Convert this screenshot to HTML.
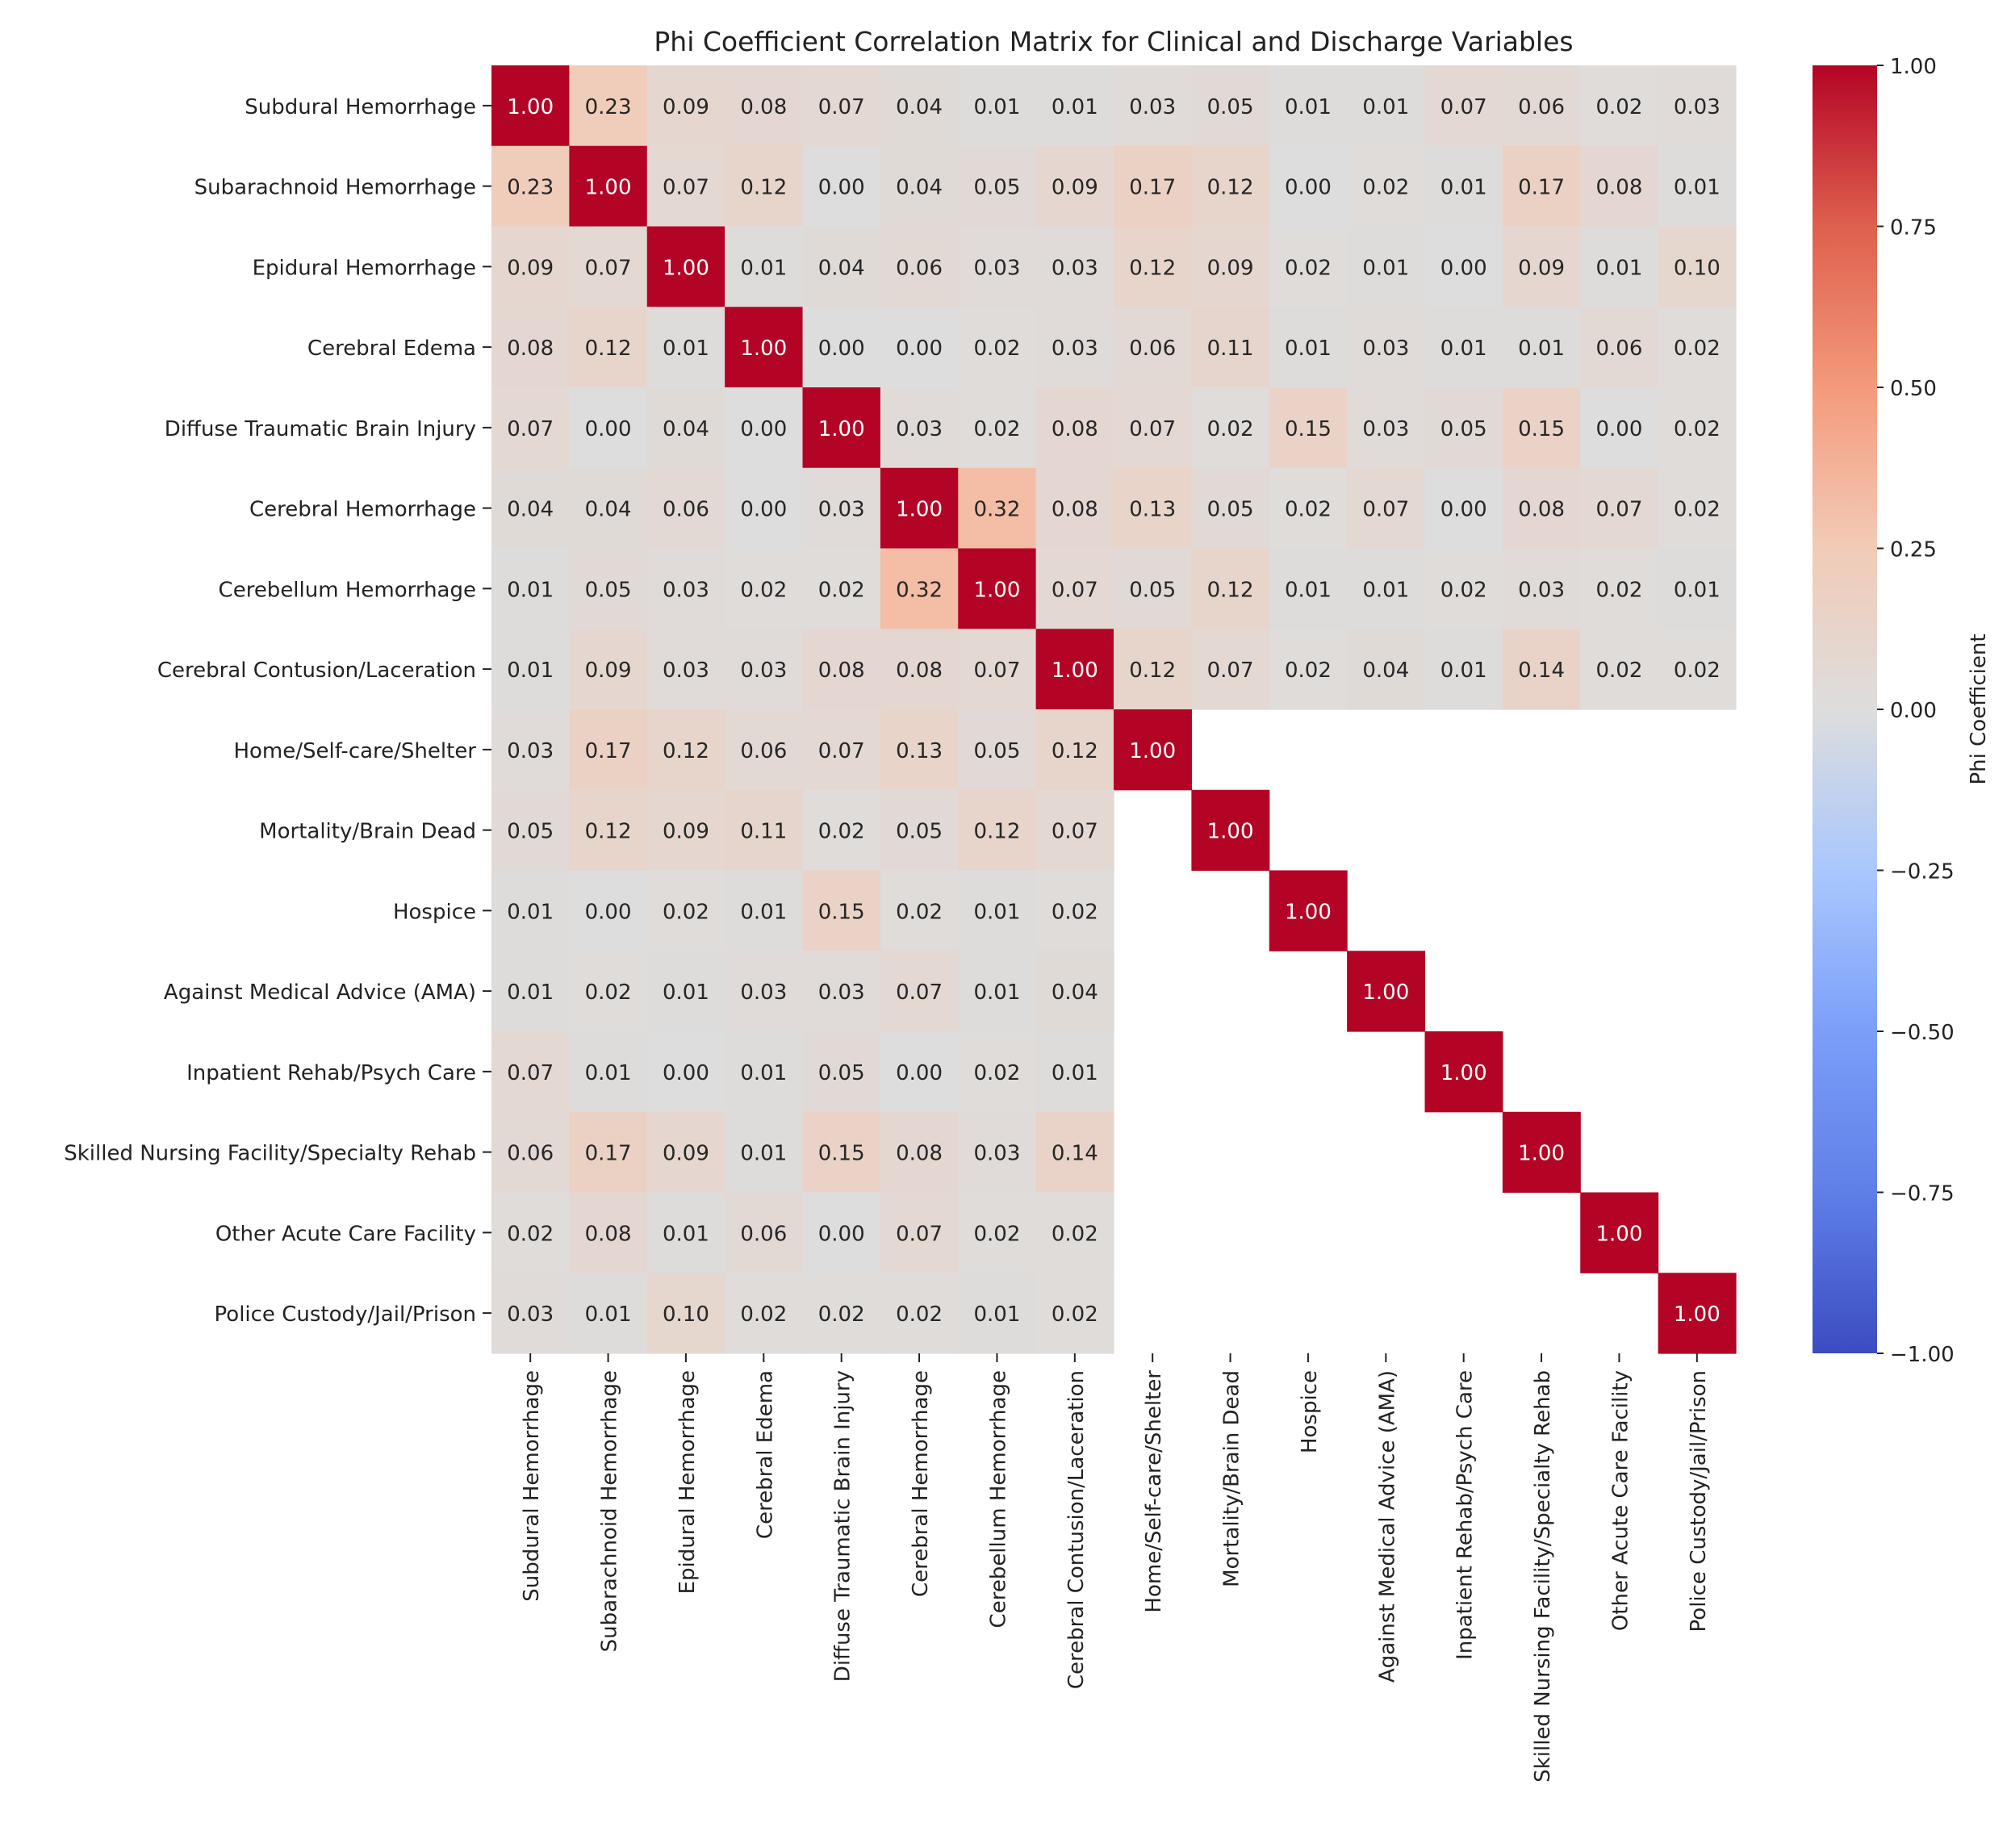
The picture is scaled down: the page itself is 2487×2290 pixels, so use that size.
<!DOCTYPE html>
<html><head><meta charset="utf-8"><style>
html,body{margin:0;padding:0;background:#fff;}
svg{display:block;font-family:"DejaVu Sans","Liberation Sans",sans-serif;}
</style></head><body>
<svg id="chart" width="2487" height="2290" viewBox="0 0 2487 2290" xmlns="http://www.w3.org/2000/svg">
<text x="1380" y="63" font-size="33" text-anchor="middle" fill="#222">Phi Coefficient Correlation Matrix for Clinical and Discharge Variables</text>
<g id="cells"></g>
<g id="ylabels"></g>
<g id="xlabels"></g>
<defs><linearGradient id="cbgrad" x1="0" y1="1" x2="0" y2="0"></linearGradient></defs>
<rect x="2246" y="81" width="80" height="1596" fill="url(#cbgrad)"/>
<g id="cbticks"></g>
<text x="2460" y="879" font-size="26" text-anchor="middle" transform="rotate(-90 2460 879)" fill="#222">Phi Coefficient</text>
</svg>
<script>
const labels = ["Subdural Hemorrhage","Subarachnoid Hemorrhage","Epidural Hemorrhage","Cerebral Edema","Diffuse Traumatic Brain Injury","Cerebral Hemorrhage","Cerebellum Hemorrhage","Cerebral Contusion/Laceration","Home/Self-care/Shelter","Mortality/Brain Dead","Hospice","Against Medical Advice (AMA)","Inpatient Rehab/Psych Care","Skilled Nursing Facility/Specialty Rehab","Other Acute Care Facility","Police Custody/Jail/Prison"];
const row0 = [1.00,0.23,0.09,0.08,0.07,0.04,0.01,0.01,0.03,0.05,0.01,0.01,0.07,0.06,0.02,0.03];
const row1 = [0.23,1.00,0.07,0.12,0.00,0.04,0.05,0.09,0.17,0.12,0.00,0.02,0.01,0.17,0.08,0.01];
const row2 = [0.09,0.07,1.00,0.01,0.04,0.06,0.03,0.03,0.12,0.09,0.02,0.01,0.00,0.09,0.01,0.10];
const row3 = [0.08,0.12,0.01,1.00,0.00,0.00,0.02,0.03,0.06,0.11,0.01,0.03,0.01,0.01,0.06,0.02];
const row4 = [0.07,0.00,0.04,0.00,1.00,0.03,0.02,0.08,0.07,0.02,0.15,0.03,0.05,0.15,0.00,0.02];
const row5 = [0.04,0.04,0.06,0.00,0.03,1.00,0.32,0.08,0.13,0.05,0.02,0.07,0.00,0.08,0.07,0.02];
const row6 = [0.01,0.05,0.03,0.02,0.02,0.32,1.00,0.07,0.05,0.12,0.01,0.01,0.02,0.03,0.02,0.01];
const row7 = [0.01,0.09,0.03,0.03,0.08,0.08,0.07,1.00,0.12,0.07,0.02,0.04,0.01,0.14,0.02,0.02];
const clinicalRows = [row0,row1,row2,row3,row4,row5,row6,row7];
const cbTickValues = [1.00,0.75,0.50,0.25,0.00,-0.25,-0.50,-0.75,-1.00];

const NS="http://www.w3.org/2000/svg";
const L=609,R=2151,T=81,B=1677,n=labels.length;
const cw=(R-L)/n, ch=(B-T)/n;
const xPos=j=>L+j*cw, yPos=i=>T+i*ch;
const cbY=v=>B-(v+1)/2*(B-T);
const stops=[[0,[59,76,192]],[0.125,[95,127,232]],[0.25,[123,159,249]],[0.375,[170,199,253]],[0.5,[221,221,221]],[0.625,[242,203,183]],[0.75,[244,154,123]],[0.875,[222,96,77]],[1,[180,4,38]]];
function cmap(v){const t=(v+1)/2;for(let k=0;k<stops.length-1;k++){const a=stops[k],b=stops[k+1];if(t<=b[0]){const f=(t-a[0])/(b[0]-a[0]);return `rgb(${a[1].map((c,m)=>Math.round(c+(b[1][m]-c)*f)).join(',')})`;}}return 'rgb(180,4,38)';}
function val(i,j){if(i<8)return clinicalRows[i][j];if(j<8)return clinicalRows[j][i];return i===j?1:null;}
function mk(tag,attrs,parent){const e=document.createElementNS(NS,tag);for(const k in attrs)e.setAttribute(k,attrs[k]);parent.appendChild(e);return e;}
const cells=document.getElementById('cells');
for(let i=0;i<n;i++)for(let j=0;j<n;j++){
  const v=val(i,j);if(v===null)continue;
  const r=mk('rect',{x:xPos(j),y:yPos(i),width:cw+0.6,height:ch+0.6,fill:cmap(v)},cells);
  
  
  const t=mk('text',{x:xPos(j)+cw/2,y:yPos(i)+ch/2+10,'font-size':26,'text-anchor':'middle',fill:v>0.6?'#fff':'#262626'},cells);
  
  
  t.textContent=v.toFixed(2);
}
const yl=document.getElementById('ylabels'),xl=document.getElementById('xlabels');
labels.forEach((lab,i)=>{
  const cy=yPos(i)+ch/2;
  mk('line',{x1:598,y1:cy,x2:609,y2:cy,stroke:'#222','stroke-width':2},yl);
  const t=mk('text',{x:590,y:cy+10,'font-size':26,'text-anchor':'end',fill:'#222'},yl);
  
  
  t.textContent=lab;
  const cx=xPos(i)+cw/2;
  mk('line',{x1:cx,y1:B,x2:cx,y2:B+11,stroke:'#222','stroke-width':2},xl);
  const tx=mk('text',{x:cx+10,y:1698,'font-size':26,'text-anchor':'end',fill:'#222',transform:`rotate(-90 ${cx+10} 1698)`},xl);
  
  
  tx.textContent=lab;
});
const grad=document.getElementById('cbgrad');
stops.forEach(s=>mk('stop',{offset:s[0],'stop-color':`rgb(${s[1].join(',')})`},grad));
const cbt=document.getElementById('cbticks');
cbTickValues.forEach(v=>{
  const y=cbY(v);
  mk('line',{x1:2326,y1:y,x2:2334,y2:y,stroke:'#222','stroke-width':2},cbt);
  const t=mk('text',{x:2342,y:y+10,'font-size':26,fill:'#222'},cbt);
  
  
  t.textContent=(v<0?'\u2212':'')+Math.abs(v).toFixed(2);
});
</script>
</body></html>
